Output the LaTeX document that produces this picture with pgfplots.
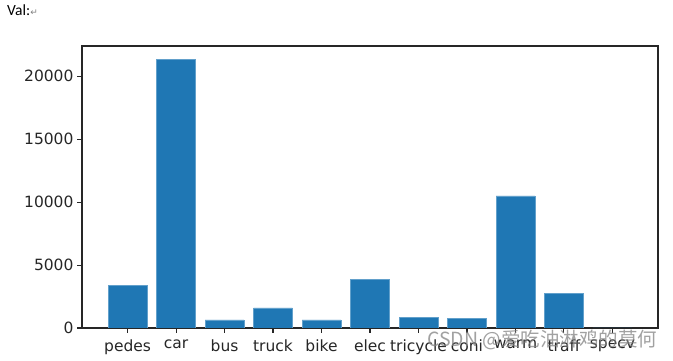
\documentclass[border=0pt]{standalone}
\usepackage{pgfplots}
\pgfplotsset{compat=1.18}
\usepackage{fontspec}
\setmainfont{DejaVu Sans}
\newfontfamily\valfont{Carlito}
\newfontfamily\symfont{DejaVu Sans}
\newfontfamily\cjk{Noto Sans CJK SC}
\definecolor{mplblue}{HTML}{1F77B4}
\begin{document}
\begin{tikzpicture}
\useasboundingbox (0,0) rectangle (673pt,361pt);
\begin{axis}[
  at={(82pt,33pt)}, anchor=south west,
  scale only axis, width=576pt, height=282pt,
  xmin=-0.94, xmax=10.94,
  ymin=0, ymax=22400,
  xtick=data,
  xticklabels={pedes,car,bus,truck,bike,elec,tricycle,coni,warm,traff,specv},
  ytick={0,5000,10000,15000,20000},
  scaled y ticks=false,
  /pgf/number format/.cd, 1000 sep={}, assume math mode=true, /pgfplots/.cd,
  tick pos=left, tick align=outside,
  major tick length=5pt,
  tick style={line width=1.1pt, black!85},
  axis line style={line width=1.1pt, black!85},
  ticklabel style={font=\fontsize{15.5}{18}\selectfont, text=black!85},
  xticklabel style={yshift=-3pt},
  ybar, bar width=0.8,
]
\addplot[fill=mplblue, draw=mplblue!70!white, line width=0.4pt] coordinates {
  (0,3390) (1,21330) (2,640) (3,1590) (4,640) (5,3870) (6,850) (7,740) (8,10500) (9,2730) (10,15)
};
\end{axis}
\node[anchor=base west, inner sep=0pt] at (7pt,345pt) {\valfont\fontsize{15.5}{17}\selectfont Val:\textcolor{gray}{\symfont\fontsize{9}{10}\selectfont ↵}};
\node[anchor=base west, inner sep=0pt, text={rgb,255:red,130;green,130;blue,130}, opacity=0.75] at (427pt,14pt) {\cjk\fontsize{19.5}{22}\selectfont CSDN @爱吃油淋鸡的莫何};
\end{tikzpicture}
\end{document}
